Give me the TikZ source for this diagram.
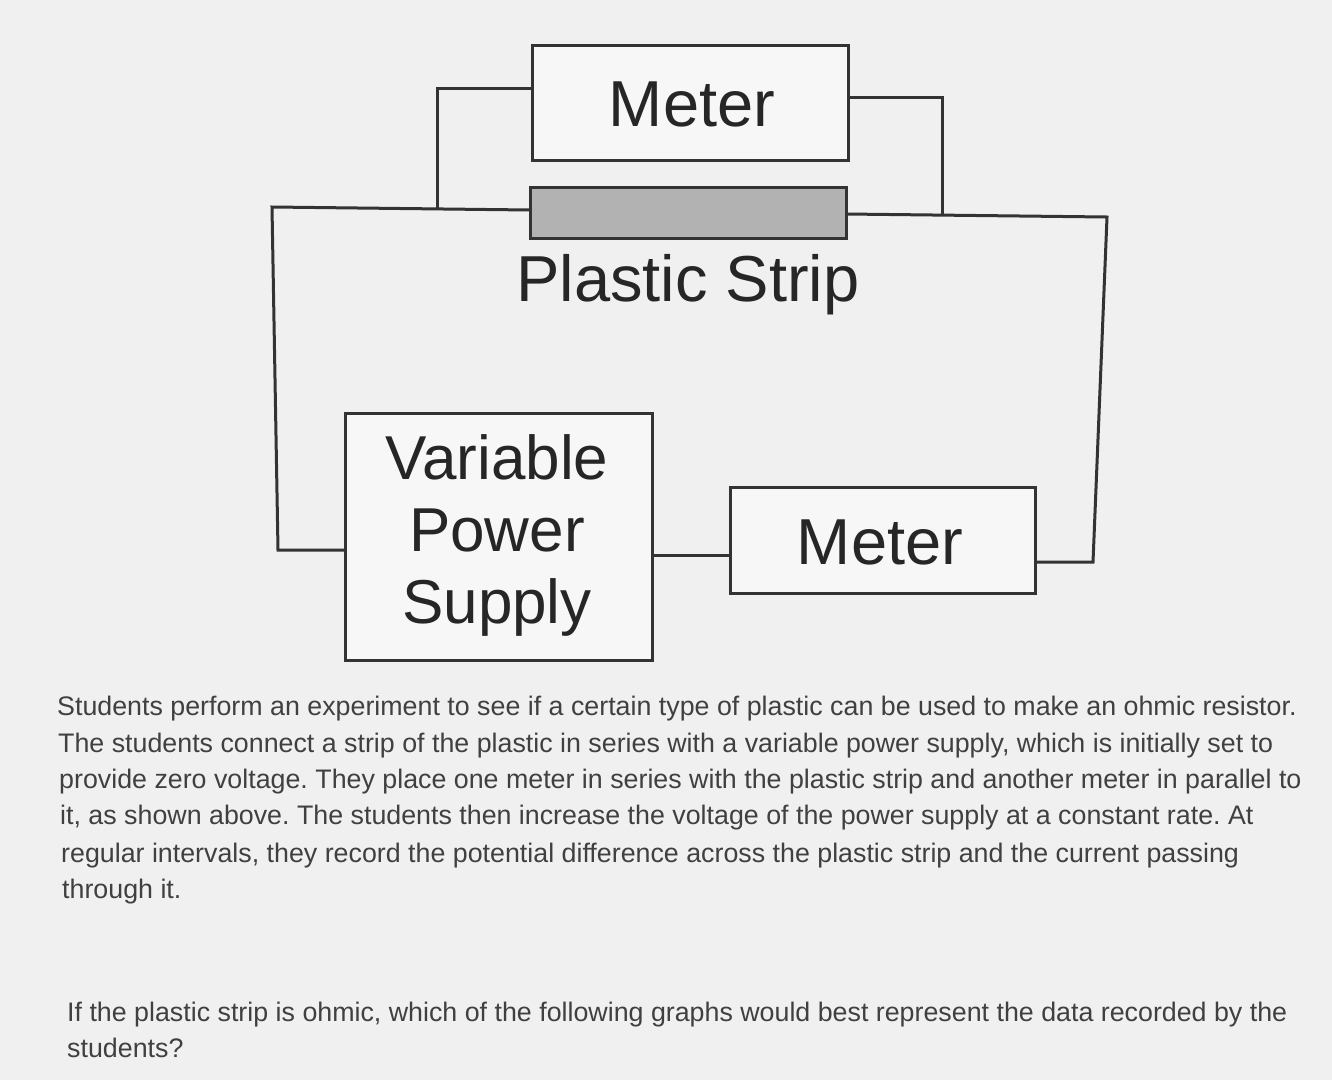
\documentclass[tikz,border=0pt]{standalone}
\usepackage{fontspec}
\setmainfont{Liberation Sans}
\begin{document}
\frenchspacing
\begin{tikzpicture}[x=1pt,y=-1pt,
  wire/.style={line width=3pt,draw=black!80},
  box/.style={line width=3pt,draw=black!80},
  big/.style={font=\fontsize{65}{70}\selectfont,text=black!85},
  para/.style={font=\fontsize{26.8}{30}\selectfont,text=black!75,anchor=base west,inner sep=0}]
\useasboundingbox[fill=black!6] (0,0) rectangle (1332,1080);
\draw[box,fill=white!97!black] (532,45) rectangle (848,160);
\node[big] (m1) at (692,104) {Meter};
\draw[box,fill=black!30] (530,187) rectangle (846,238);
\coordinate (sl) at (530,210);
\coordinate (sr) at (846,214);
\node[big] (ps) at (688,285) {Plastic Strip};
\draw[box,fill=white!97!black] (345,413) rectangle (652,660);
\node[big,align=center,font=\fontsize{62}{72}\selectfont] (vps) at (497,535) {Variable\\Power\\Supply};
\draw[box,fill=white!97!black] (730,487) rectangle (1035,593);
\node[big] (m2) at (880,542) {Meter};
\draw[wire] (532,88) -- (437,88) -- (437,209);
\draw[wire] (848,97) -- (942,97) -- (942,215);
\draw[wire] (sl) -- (272,207) -- (278,550) -- (345,550);
\draw[wire] (sr) -- (1107,217) -- (1093,562) -- (1035,562);
\draw[wire] (652,555) -- (730,555);
\node[para] (p1) at (57,715) {Students perform an experiment to see if a certain type of plastic can be used to make an ohmic resistor.};
\node[para] (p2) at (58,752) {The students connect a strip of the plastic in series with a variable power supply, which is initially set to};
\node[para] (p3) at (59,788) {provide zero voltage. They place one meter in series with the plastic strip and another meter in parallel to};
\node[para] (p4) at (60,824) {it, as shown above. The students then increase the voltage of the power supply at a constant rate. At};
\node[para] (p5) at (61,862) {regular intervals, they record the potential difference across the plastic strip and the current passing};
\node[para] (p6) at (62,898) {through it.};
\node[para] (q1) at (67,1021) {If the plastic strip is ohmic, which of the following graphs would best represent the data recorded by the};
\node[para] (q2) at (67,1057) {students?};
\end{tikzpicture}
\end{document}
